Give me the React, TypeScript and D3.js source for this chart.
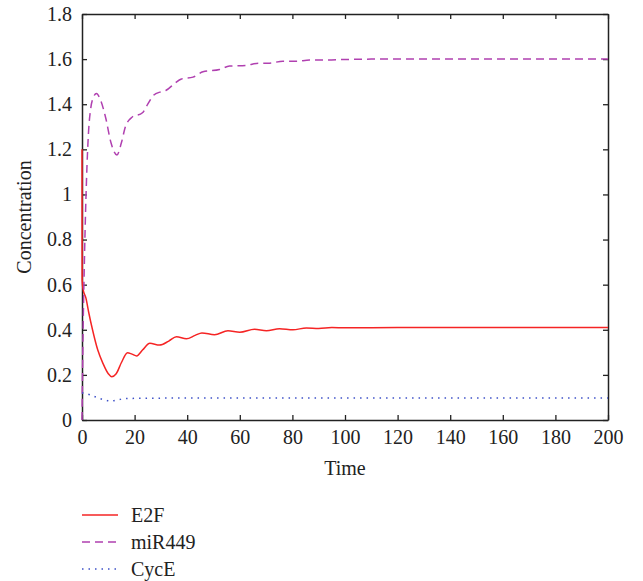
import React, { useEffect, useRef } from "react";
import * as d3 from "d3";

// time points and concentrations
const e2fTime = [0, 0.05, 0.4, 1.5, 2.5, 4, 6, 8, 10, 11.3, 13, 15, 17.3, 19, 20.8, 23, 25.8, 29.5, 33, 35.9, 39.7, 43, 45.6, 50.4, 55.5, 60, 65.6, 70.1, 75.1, 80.2, 85.3, 90, 95, 100, 120, 140, 160, 180, 200];
const e2fValues = [1.2, 0.62, 0.58, 0.54, 0.48, 0.4, 0.31, 0.25, 0.205, 0.192, 0.205, 0.255, 0.298, 0.292, 0.284, 0.31, 0.34, 0.332, 0.35, 0.369, 0.36, 0.375, 0.386, 0.378, 0.396, 0.389, 0.402, 0.396, 0.405, 0.4, 0.408, 0.406, 0.41, 0.409, 0.41, 0.41, 0.41, 0.41, 0.41];

const mirTime = [0, 0.3, 1, 1.7, 2.5, 3.3, 4.3, 5.5, 7, 9, 11, 13.3, 15, 16.5, 19, 23, 25, 27.2, 30, 32, 35.2, 37.8, 42.2, 46, 52.3, 56.1, 62.5, 66.3, 71.3, 76.4, 81.5, 86.5, 92.9, 99.2, 110, 130, 160, 200];
const mirValues = [0, 0.3, 0.75, 1.06, 1.28, 1.38, 1.43, 1.448, 1.42, 1.34, 1.23, 1.175, 1.23, 1.3, 1.342, 1.362, 1.4, 1.44, 1.455, 1.462, 1.492, 1.512, 1.52, 1.544, 1.554, 1.569, 1.572, 1.581, 1.582, 1.591, 1.59, 1.596, 1.596, 1.598, 1.6, 1.6, 1.6, 1.6];

const cycTime = [0, 1.2, 3, 4.4, 6.3, 8.5, 11, 13.3, 15.8, 20, 30, 60, 100, 150, 200];
const cycValues = [0.12, 0.118, 0.112, 0.106, 0.097, 0.089, 0.084, 0.089, 0.094, 0.096, 0.097, 0.098, 0.098, 0.098, 0.098];

const xTicks = [0, 20, 40, 60, 80, 100, 120, 140, 160, 180, 200];
const yTicks = [0, 0.2, 0.4, 0.6, 0.8, 1, 1.2, 1.4, 1.6, 1.8];

const seriesNames = ["E2F", "miR449", "CycE"];

const App = () => {
  const ref = useRef<SVGSVGElement>(null);
  const width = 643;
  const height = 581;

  useEffect(() => {
    const svg = d3.select(ref.current);
    svg.selectAll("*").remove();

    const margin = { top: 14, right: 35, bottom: 161, left: 82 };
    const font = "'Liberation Serif', serif";

    const x = d3.scaleLinear().domain([0, 200]).range([margin.left, width - margin.right]);
    const y = d3.scaleLinear().domain([0, 1.8]).range([height - margin.bottom, margin.top]);

    const series = [
      { name: seriesNames[0], t: e2fTime, v: e2fValues, color: "#f52424", dash: null, w: 1.5 },
      { name: seriesNames[1], t: mirTime, v: mirValues, color: "#b040b0", dash: "8,5", w: 1.5 },
      { name: seriesNames[2], t: cycTime, v: cycValues, color: "#3c50c8", dash: "1.5,5", w: 1.5 },
    ];

    const line = d3
      .line<[number, number]>()
      .x((d) => x(d[0]))
      .y((d) => y(d[1]))
      .curve(d3.curveMonotoneX);

    const axisColor = "#222";
    const tickLen = 5;

    // axes with inward ticks, mirrored on top and right
    const bottom = svg.append("g")
      .attr("transform", `translate(0,${y(0)})`)
      .call(d3.axisBottom(x).tickValues(xTicks).tickSizeInner(-tickLen).tickSizeOuter(0).tickPadding(10).tickFormat(d3.format("d")));
    const top = svg.append("g")
      .attr("transform", `translate(0,${y(1.8)})`)
      .call(d3.axisTop(x).tickValues(xTicks).tickSizeInner(-tickLen).tickSizeOuter(0).tickFormat(() => ""));
    const left = svg.append("g")
      .attr("transform", `translate(${x(0)},0)`)
      .call(d3.axisLeft(y).tickValues(yTicks).tickSizeInner(-tickLen).tickSizeOuter(0).tickPadding(10).tickFormat((d) => `${d}`));
    const right = svg.append("g")
      .attr("transform", `translate(${x(200)},0)`)
      .call(d3.axisRight(y).tickValues(yTicks).tickSizeInner(-tickLen).tickSizeOuter(0).tickFormat(() => ""));

    [bottom, top, left, right].forEach((g) => {
      g.attr("font-family", null).attr("font-size", null);
      g.selectAll("path").attr("stroke", axisColor).attr("stroke-width", 1.5);
      g.selectAll("line").attr("stroke", axisColor).attr("stroke-width", 1.3);
      g.selectAll("text").attr("fill", "#222").style("font-family", font).style("font-size", "20px");
    });

    // curves drawn over the axes
    series.forEach((s) => {
      const pts = s.t.map((t, i) => [t, s.v[i]] as [number, number]);
      svg.append("path")
        .datum(pts)
        .attr("d", line)
        .attr("fill", "none")
        .attr("stroke", s.color)
        .attr("stroke-width", s.w)
        .attr("stroke-dasharray", s.dash);
    });

    // axis titles
    svg.append("text")
      .attr("x", (x(0) + x(200)) / 2)
      .attr("y", 475)
      .attr("text-anchor", "middle")
      .style("font-family", font)
      .style("font-size", "20px")
      .attr("fill", "#222")
      .text("Time");

    svg.append("text")
      .attr("transform", `translate(31,${(y(0) + y(1.8)) / 2}) rotate(-90)`)
      .attr("text-anchor", "middle")
      .style("font-family", font)
      .style("font-size", "20px")
      .attr("fill", "#222")
      .text("Concentration");

    // legend below the plot
    const legend = svg.append("g").attr("transform", "translate(82,515)");
    series.forEach((s, i) => {
      const row = legend.append("g").attr("transform", `translate(0,${i * 27})`);
      row.append("line")
        .attr("x1", 0).attr("x2", 36)
        .attr("stroke", s.color)
        .attr("stroke-width", s.w)
        .attr("stroke-dasharray", s.dash);
      row.append("text")
        .attr("x", 49)
        .attr("dy", "0.35em")
        .style("font-family", font)
        .style("font-size", "20px")
        .attr("fill", "#222")
        .text(s.name);
    });
  }, []);

  return (
    <svg
      ref={ref}
      width={width}
      height={height}
      style={{ position: "absolute", left: 0, top: 0, background: "#fff" }}
    ></svg>
  );
};

export default App;
